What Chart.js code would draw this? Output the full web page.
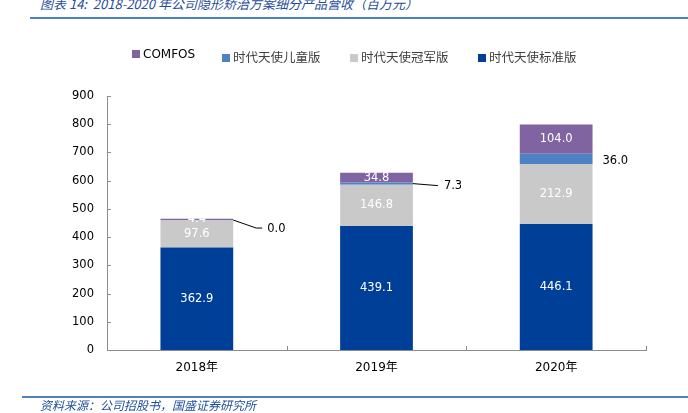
<!DOCTYPE html>
<html>
<head>
<meta charset="utf-8">
<script src="https://cdn.jsdelivr.net/npm/chart.js@4"></script>
<style>
  html, body { margin: 0; padding: 0; background: #fff; }
  #wrap { position: relative; width: 688px; height: 413px; overflow: hidden; }
  #wrap canvas { position: absolute; left: 0; top: 0; }
  .title { position: absolute; left: 40px; top: -6px; font: italic 13px "Noto Sans CJK SC", sans-serif; color: #1f4e9a; white-space: nowrap; }
  .rule { position: absolute; height: 1.5px; background: #4f81bd; right: 0; }
  .foot { position: absolute; left: 40px; top: 396px; font: italic 12px "Noto Sans CJK SC", sans-serif; color: #1f4e9a; white-space: nowrap; }
  .lg { position: absolute; top: 47px; white-space: nowrap; font: 12.5px "DejaVu Sans", "Noto Sans CJK SC", sans-serif; color: #404040; }
  .lg i { display: inline-block; width: 8px; height: 8px; margin-right: 3px; vertical-align: 0px; }
</style>
</head>
<body>
<div id="wrap">
  <div class="title">图表 14:&nbsp; 2018-2020 年公司隐形矫治方案细分产品营收（百万元）</div>
  <div class="rule" style="left:30px; top:17px;"></div>
  <canvas id="chart" width="688" height="413"></canvas>
  <div class="rule" style="left:22px; top:396px;"></div>
  <div class="foot">资料来源：公司招股书，国盛证券研究所</div>
</div>
<script>
// --- data ---
const years      = ['2018年', '2019年', '2020年'];
const standard   = [362.9, 439.1, 446.1];   // 时代天使标准版
const champion   = [97.6, 146.8, 212.9];    // 时代天使冠军版
const children   = [0.0, 7.3, 36.0];        // 时代天使儿童版
const comfos     = [4.4, 34.8, 104.0];      // COMFOS
const yTicks     = [0, 100, 200, 300, 400, 500, 600, 700, 800, 900];

const colors = {
  standard: '#003f98',
  champion: '#c9c9c9',
  children: '#4f81c5',
  comfos:   '#8064a2',
};

const series = [
  { label: '时代天使标准版', data: standard, color: colors.standard },
  { label: '时代天使冠军版', data: champion, color: colors.champion },
  { label: '时代天使儿童版', data: children, color: colors.children },
  { label: 'COMFOS',        data: comfos,   color: colors.comfos },
];

// legend (reverse order, as in the reference)
const legendX = [132, 222, 350, 478];
series.slice().reverse().forEach((s, i) => {
  const el = document.createElement('div');
  el.className = 'lg';
  el.style.left = legendX[i] + 'px';
  if (s.label === 'COMFOS') { el.style.color = '#000'; el.style.fontSize = '12px'; el.style.top = '47px'; }
  el.innerHTML = '<i style="background:' + s.color + '"></i>' + s.label;
  document.getElementById('wrap').appendChild(el);
});

const FONT = '"DejaVu Sans", "Noto Sans CJK SC", sans-serif';

// callouts for the small children segment: [label dx, label dy, leader points...]
const callouts = [
  { dx: 34, dy: 9, line: [[0, 0], [23, 8], [29, 8]] },
  { dx: 31, dy: 2, line: [[0, 0], [25, 2]] },
  { dx: 10, dy: 2, line: null },
];

const labelPlugin = {
  id: 'segLabels',
  afterDatasetsDraw(chart) {
    const ctx = chart.ctx;
    ctx.save();
    ctx.font = '11.5px ' + FONT;
    ctx.textBaseline = 'middle';
    chart.data.datasets.forEach((ds, di) => {
      const meta = chart.getDatasetMeta(di);
      meta.data.forEach((bar, i) => {
        const v = ds.data[i];
        const txt = v.toFixed(1);
        const yMid = (bar.y + bar.base) / 2;
        if (di === 2) {
          const c = callouts[i];
          const right = bar.x + bar.width / 2;
          if (c.line) {
            ctx.strokeStyle = '#000';
            ctx.lineWidth = 1;
            ctx.beginPath();
            c.line.forEach((p, k) => {
              const px = right + p[0], py = yMid + p[1];
              k ? ctx.lineTo(px, py) : ctx.moveTo(px, py);
            });
            ctx.stroke();
          }
          ctx.fillStyle = '#000';
          ctx.textAlign = 'left';
          ctx.fillText(txt, right + c.dx, yMid + c.dy);
        } else {
          ctx.fillStyle = '#fff';
          ctx.textAlign = 'center';
          ctx.fillText(txt, bar.x, yMid);
        }
      });
    });
    ctx.restore();
  },
  afterDraw(chart) {
    // short inward tick marks
    const ctx = chart.ctx;
    const y = chart.scales.y, x = chart.scales.x;
    ctx.save();
    ctx.strokeStyle = '#8c8c8c';
    ctx.lineWidth = 1;
    ctx.beginPath();
    y.ticks.forEach((t, i) => {
      const py = Math.round(y.getPixelForTick(i)) + 0.5;
      ctx.moveTo(y.right, py); ctx.lineTo(y.right + 4, py);
    });
    const half = (x.getPixelForValue(1) - x.getPixelForValue(0)) / 2;
    for (let i = 0; i < years.length; i++) {
      const px = Math.round(x.getPixelForValue(i) + half) + 0.5;
      ctx.moveTo(px, x.top); ctx.lineTo(px, x.top - 4);
    }
    ctx.stroke();
    ctx.restore();
  },
};

new Chart(document.getElementById('chart'), {
  type: 'bar',
  data: {
    labels: years,
    datasets: series.map(s => ({
      label: s.label,
      data: s.data,
      backgroundColor: s.color,
      borderWidth: 0,
      barPercentage: 1,
      categoryPercentage: 0.405,
    })),
  },
  options: {
    responsive: false,
    animation: false,
    devicePixelRatio: 1,
    layout: { padding: { top: 96, right: 42, bottom: 0, left: 0 } },
    plugins: {
      legend: { display: false },
      title: { display: false },
      tooltip: { enabled: false },
    },
    scales: {
      x: {
        stacked: true,
        grid: { display: false, drawTicks: false },
        border: { color: '#8c8c8c', width: 1 },
        ticks: { color: '#000', font: { size: 12, family: FONT }, padding: 11 },
        afterFit(s) { s.height = 63; },
      },
      y: {
        stacked: true,
        min: 0,
        max: 900,
        afterBuildTicks(s) { s.ticks = yTicks.map(v => ({ value: v })); },
        grid: { display: false, drawTicks: false },
        border: { color: '#8c8c8c', width: 1 },
        ticks: { color: '#000', font: { size: 11.5, family: FONT }, padding: 13 },
        afterFit(s) { s.width = 107; },
      },
    },
  },
  plugins: [labelPlugin],
});
</script>
</body>
</html>
